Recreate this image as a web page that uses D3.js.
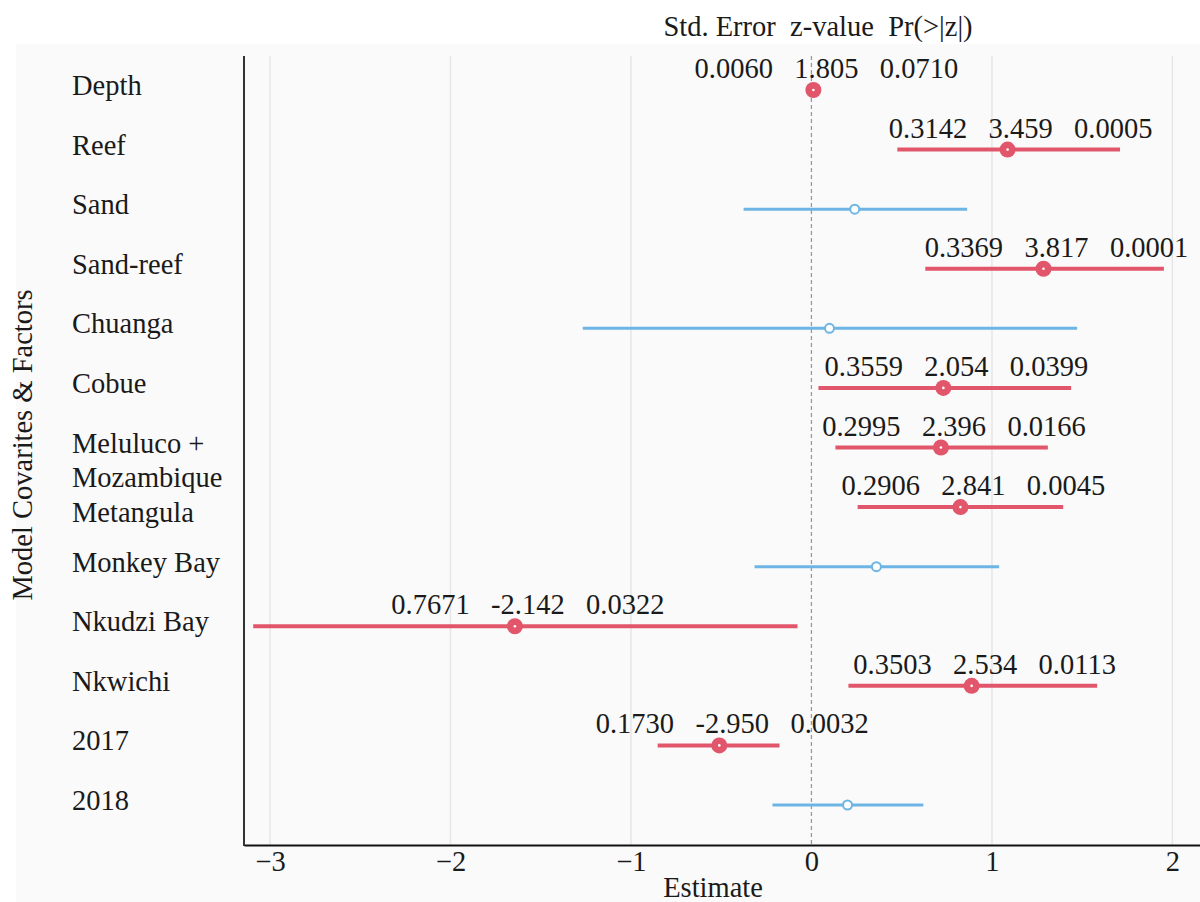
<!DOCTYPE html>
<html>
<head>
<meta charset="utf-8">
<script src="https://cdn.jsdelivr.net/npm/d3@7"></script>
<style>
  html, body { margin: 0; padding: 0; background: #ffffff; }
  svg { display: block; }
  text { font-family: "Liberation Serif", "Times New Roman", serif; fill: #1a1a1a; }
</style>
</head>
<body>
<svg id="chart" width="1200" height="902"></svg>
<script>
// Model terms, top to bottom
const terms = ["Depth", "Reef", "Sand", "Sand-reef", "Chuanga", "Cobue",
  "Meluluco +\nMozambique", "Metangula", "Monkey Bay", "Nkudzi Bay",
  "Nkwichi", "2017", "2018"];

// Coefficient estimates
const estimates = [0.0108, 1.0868, 0.24, 1.286, 0.10, 0.731,
  0.7176, 0.8256, 0.36, -1.6431, 0.8877, -0.5104, 0.20];

// 95% interval bounds
const lower = [-0.001, 0.476, -0.376, 0.631, -1.267, 0.039,
  0.133, 0.256, -0.315, -3.093, 0.205, -0.852, -0.216];
const upper = [0.0226, 1.710, 0.863, 1.953, 1.472, 1.439,
  1.310, 1.395, 1.040, -0.077, 1.583, -0.177, 0.620];

// Summary statistics shown for significant terms (empty = not significant)
const stdErrors = ["0.0060", "0.3142", "", "0.3369", "", "0.3559",
  "0.2995", "0.2906", "", "0.7671", "0.3503", "0.1730", ""];
const zValues = ["1.805", "3.459", "", "3.817", "", "2.054",
  "2.396", "2.841", "", "-2.142", "2.534", "-2.950", ""];
const pValues = ["0.0710", "0.0005", "", "0.0001", "", "0.0399",
  "0.0166", "0.0045", "", "0.0322", "0.0113", "0.0032", ""];

const xTicks = [-3, -2, -1, 0, 1, 2];
const statHeader = "Std. Error\u00A0\u00A0z-value\u00A0\u00A0Pr(>|z|)";

const rows = terms.map((t, i) => ({
  term: t, est: estimates[i], lo: lower[i], hi: upper[i],
  se: stdErrors[i], z: zValues[i], p: pValues[i], sig: stdErrors[i] !== ""
}));

const RED = "#e1566b";
const BLUE = "#6db5e4";
const FS = 28.5;

const svg = d3.select("#chart");
const W = 1200, H = 902;
const plot = { left: 244, right: 1200, top: 56, bottom: 845 };

// panel background
svg.append("rect").attr("x", 16).attr("y", 44)
  .attr("width", W - 16).attr("height", H - 44).attr("fill", "#fafafa");

const x = d3.scaleLinear().domain([-3.144, 2.153]).range([plot.left, plot.right]);
const y = d3.scalePoint().domain(terms).range([plot.top + 34, plot.bottom - 40]);

// vertical grid
svg.append("g").selectAll("line")
  .data(xTicks.filter(d => d !== 0))
  .join("line")
  .attr("x1", d => x(d)).attr("x2", d => x(d))
  .attr("y1", plot.top).attr("y2", plot.bottom)
  .attr("stroke", "#e6e6e6").attr("stroke-width", 1.5);

// reference line at zero
svg.append("line")
  .attr("x1", x(0)).attr("x2", x(0))
  .attr("y1", plot.top).attr("y2", plot.bottom)
  .attr("stroke", "#9a9a9a").attr("stroke-width", 1.3)
  .attr("stroke-dasharray", "4,3");

// axes
const xAxis = d3.axisBottom(x).tickValues(xTicks).tickSize(0).tickPadding(10)
  .tickFormat(d3.format("d"));
const gx = svg.append("g").attr("transform", `translate(0,${plot.bottom})`).call(xAxis);
gx.select(".domain").attr("stroke", "#111").attr("stroke-width", 2);
gx.selectAll(".tick text")
  .style("font-family", "'Liberation Serif', serif")
  .style("font-size", FS + "px").attr("fill", "#1a1a1a").attr("dy", "0.55em");

svg.append("line")
  .attr("x1", plot.left).attr("x2", plot.left)
  .attr("y1", plot.top).attr("y2", plot.bottom + 1)
  .attr("stroke", "#333").attr("stroke-width", 2);

// term labels, multi-line labels stacked so following labels never overlap
const lineH = 34.5;
let lastBase = -Infinity;
const labelG = svg.append("g");
rows.forEach(r => {
  const lines = r.term.split("\n");
  const firstBase = Math.max(y(r.term) + 5, lastBase + lineH);
  const t = labelG.append("text").attr("x", 72).style("font-size", FS + "px");
  lines.forEach((ln, k) => {
    t.append("tspan").attr("x", 72).attr("y", firstBase + k * lineH).text(ln);
  });
  lastBase = firstBase + (lines.length - 1) * lineH;
});

// interval lines
svg.append("g").selectAll("line")
  .data(rows)
  .join("line")
  .attr("x1", d => x(Math.max(d.lo, x.domain()[0])))
  .attr("x2", d => x(Math.min(d.hi, x.domain()[1])))
  .attr("y1", d => y(d.term)).attr("y2", d => y(d.term))
  .attr("stroke", d => d.sig ? RED : BLUE)
  .attr("stroke-width", d => d.sig ? 4 : 3);

// point estimates
const pts = svg.append("g");
pts.selectAll("circle.sig")
  .data(rows.filter(d => d.sig))
  .join("circle").attr("class", "sig")
  .attr("cx", d => x(d.est)).attr("cy", d => y(d.term))
  .attr("r", 8).attr("fill", RED);
pts.selectAll("circle.core")
  .data(rows.filter(d => d.sig))
  .join("circle").attr("class", "core")
  .attr("cx", d => x(d.est)).attr("cy", d => y(d.term))
  .attr("r", 1.3).attr("fill", "#ffffff");
pts.selectAll("circle.ns")
  .data(rows.filter(d => !d.sig))
  .join("circle").attr("class", "ns")
  .attr("cx", d => x(d.est)).attr("cy", d => y(d.term))
  .attr("r", 4.5).attr("fill", "#ffffff")
  .attr("stroke", BLUE).attr("stroke-width", 2);

// statistics above significant terms
const sp = "\u00A0\u00A0\u00A0";
svg.append("g").selectAll("text")
  .data(rows.filter(d => d.sig))
  .join("text")
  .attr("x", d => x(d.est) + 13)
  .attr("y", d => y(d.term) - 12)
  .attr("text-anchor", "middle")
  .style("font-size", FS + "px")
  .text(d => d.se + sp + d.z + sp + d.p);

// column header
svg.append("text")
  .attr("x", 818).attr("y", 36)
  .attr("text-anchor", "middle")
  .style("font-size", FS + "px")
  .text(statHeader);

// axis titles
svg.append("text")
  .attr("x", 713).attr("y", 897)
  .attr("text-anchor", "middle")
  .style("font-size", FS + "px")
  .text("Estimate");

svg.append("text")
  .attr("transform", "translate(32,445) rotate(-90)")
  .attr("text-anchor", "middle")
  .style("font-size", FS + "px")
  .text("Model Covarites & Factors");
</script>
</body>
</html>
